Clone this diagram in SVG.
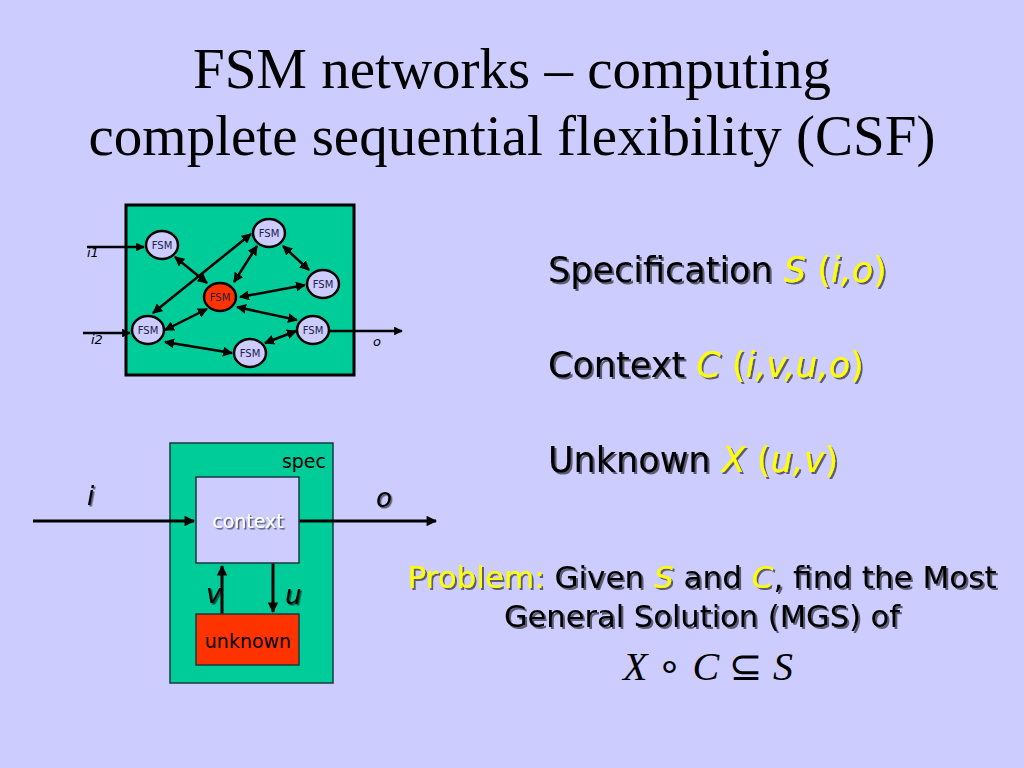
<svg xmlns="http://www.w3.org/2000/svg" width="1024" height="768" viewBox="0 0 1024 768">
<defs>
<style>
.title{font-family:"Liberation Serif",serif;font-size:57px;fill:#000;text-anchor:middle}
.fsm{fill:#CCCCFF;stroke:#000;stroke-width:2.5}
.fsmr{fill:#FF3300;stroke:#000;stroke-width:2.5}
.fl{font-family:"DejaVu Sans",sans-serif;font-size:10px;fill:#222244;text-anchor:middle}
.ln{stroke:#000;stroke-width:2.5;fill:none}
.ln2{stroke:#000;stroke-width:3;fill:none}
.sans{font-family:"DejaVu Sans",sans-serif}
.it{font-style:italic}
.y{fill:#FFFF00}
.k{fill:#000}
</style>
<marker id="ah" viewBox="0 0 10 10" refX="9" refY="5" markerWidth="4" markerHeight="4" orient="auto-start-reverse" markerUnits="strokeWidth">
<path d="M0,0 L10,5 L0,10 z" fill="#000"/>
</marker>
<marker id="ah2" viewBox="0 0 10 10" refX="9" refY="5" markerWidth="4" markerHeight="3.5" orient="auto" markerUnits="strokeWidth">
<path d="M0,0 L10,5 L0,10 z" fill="#000"/>
</marker>
<filter id="sh" x="-10%" y="-10%" width="130%" height="140%">
<feDropShadow dx="2" dy="2" stdDeviation="0.6" flood-color="#000" flood-opacity="0.55"/>
</filter>
<filter id="shl" x="-10%" y="-10%" width="130%" height="140%">
<feDropShadow dx="1.5" dy="1.5" stdDeviation="0.5" flood-color="#000" flood-opacity="0.6"/>
</filter>
</defs>
<rect width="1024" height="768" fill="#CCCCFF"/>

<g id="title">
<text class="title" x="512" y="88">FSM networks – computing</text>
<text class="title" x="512" y="155">complete sequential flexibility (CSF)</text>
</g>

<g id="network-box">
<rect x="126" y="205" width="228" height="170" fill="#00CC99" stroke="#000" stroke-width="3"/>
</g>

<g id="spec">
<rect x="170" y="443" width="163" height="240" fill="#00CC99" stroke="#1a3a3a" stroke-width="1.5"/>
<text class="sans" x="326" y="468" font-size="19" text-anchor="end">spec</text>
</g>

<g id="connectors">
<line class="ln" x1="87" y1="247" x2="144" y2="247" marker-end="url(#ah2)"/>
<line class="ln" x1="83" y1="333" x2="130" y2="333" marker-end="url(#ah2)"/>
<line class="ln" x1="330" y1="331" x2="402" y2="331" marker-end="url(#ah2)"/>
<line class="ln" x1="175" y1="257" x2="207" y2="283" marker-start="url(#ah)" marker-end="url(#ah)"/>
<line class="ln" x1="251" y1="234" x2="153" y2="313" marker-start="url(#ah)" marker-end="url(#ah)"/>
<line class="ln" x1="257" y1="246" x2="234" y2="282" marker-start="url(#ah)" marker-end="url(#ah)"/>
<line class="ln" x1="283" y1="246" x2="309" y2="270" marker-start="url(#ah)" marker-end="url(#ah)"/>
<line class="ln" x1="305" y1="285" x2="240" y2="297" marker-start="url(#ah)" marker-end="url(#ah)"/>
<line class="ln" x1="237" y1="307" x2="297" y2="320" marker-start="url(#ah)" marker-end="url(#ah)"/>
<line class="ln" x1="207" y1="309" x2="165" y2="330" marker-start="url(#ah)" marker-end="url(#ah)"/>
<line class="ln" x1="165" y1="342" x2="232" y2="353" marker-start="url(#ah)" marker-end="url(#ah)"/>
<line class="ln" x1="265" y1="343" x2="296" y2="331" marker-start="url(#ah)" marker-end="url(#ah)"/>
<line class="ln2" x1="33" y1="521" x2="194" y2="521" marker-end="url(#ah2)"/>
<line class="ln2" x1="299" y1="521" x2="436" y2="521" marker-end="url(#ah2)"/>
<line class="ln2" x1="222" y1="614" x2="222" y2="566" marker-end="url(#ah2)"/>
<line class="ln2" x1="273" y1="563" x2="273" y2="612" marker-end="url(#ah2)"/>
</g>

<g id="fsm-a"><ellipse class="fsm" cx="162" cy="245" rx="16" ry="14"/><text class="fl" x="162" y="249">FSM</text></g>
<g id="fsm-b"><ellipse class="fsm" cx="269" cy="233" rx="16" ry="14"/><text class="fl" x="269" y="237">FSM</text></g>
<g id="fsm-c"><ellipse class="fsm" cx="323" cy="284" rx="16" ry="14"/><text class="fl" x="323" y="288">FSM</text></g>
<g id="fsm-center"><ellipse class="fsmr" cx="220" cy="297" rx="16" ry="14"/><text class="fl" x="220" y="301">FSM</text></g>
<g id="fsm-e"><ellipse class="fsm" cx="148" cy="330" rx="16" ry="14"/><text class="fl" x="148" y="334">FSM</text></g>
<g id="fsm-f"><ellipse class="fsm" cx="313" cy="330" rx="16" ry="14"/><text class="fl" x="313" y="334">FSM</text></g>
<g id="fsm-g"><ellipse class="fsm" cx="250" cy="353" rx="16" ry="14"/><text class="fl" x="250" y="357">FSM</text></g>

<g id="net-labels" class="sans it" font-size="13">
<text x="87" y="257">i1</text>
<text x="91" y="344">i2</text>
<text x="373" y="346">o</text>
</g>

<g id="context">
<rect x="196" y="477" width="103" height="86" fill="#CCCCFF" stroke="#1a3a3a" stroke-width="1.5"/>
<text class="sans" x="248" y="528" font-size="19" text-anchor="middle" fill="#fff" filter="url(#shl)">context</text>
</g>
<g id="unknown">
<rect x="196" y="614" width="103" height="51" fill="#FF3300" stroke="#1a3a3a" stroke-width="1.5"/>
<text class="sans" x="248" y="648" font-size="19" text-anchor="middle" fill="#000">unknown</text>
</g>
<g id="io-labels" class="sans it" font-size="26" fill="#000" filter="url(#shl)">
<text x="87" y="505">i</text>
<text x="376" y="507">o</text>
<text x="206" y="603">v</text>
<text x="285" y="604">u</text>
</g>

<g id="defs-text" class="sans" font-size="35" filter="url(#sh)">
<text x="548" y="282" class="k">Specification  <tspan class="y it">S</tspan><tspan class="y"> (</tspan><tspan class="y it">i,o</tspan><tspan class="y">)</tspan></text>
<text x="548" y="377" class="k">Context <tspan class="y it">C</tspan><tspan class="y"> (</tspan><tspan class="y it">i,v,u,o</tspan><tspan class="y">)</tspan></text>
<text x="548" y="472" class="k">Unknown <tspan class="y it">X</tspan><tspan class="y"> (</tspan><tspan class="y it">u,v</tspan><tspan class="y">)</tspan></text>
</g>

<g id="problem" class="sans" font-size="30.5" filter="url(#sh)">
<text x="702" y="588" text-anchor="middle" class="k" font-size="31"><tspan class="y">Problem:</tspan> Given <tspan class="y it">S</tspan> and <tspan class="y it">C</tspan>, find the Most</text>
<text x="702" y="627" text-anchor="middle" class="k">General Solution (MGS) of</text>
</g>
<g id="formula">
<text x="708" y="680" text-anchor="middle" font-family="Liberation Serif,serif" font-size="40" fill="#000"><tspan font-style="italic">X</tspan> ∘ <tspan font-style="italic">C</tspan> ⊆ <tspan font-style="italic">S</tspan></text>
</g>
</svg>
